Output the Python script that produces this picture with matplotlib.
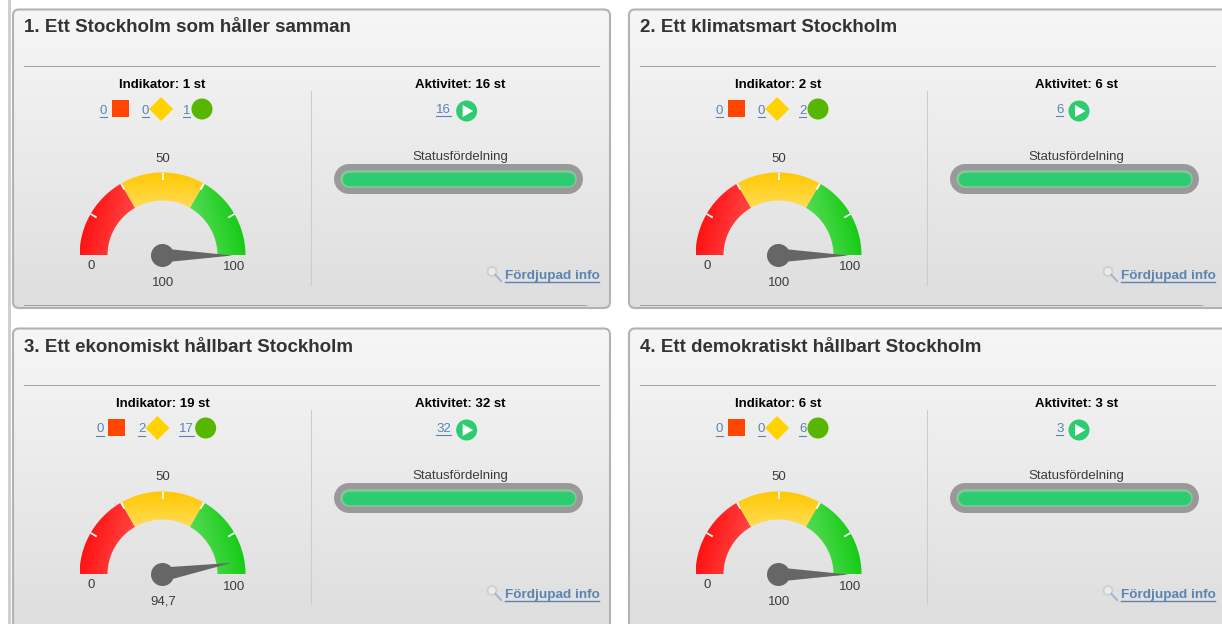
import numpy as np
import matplotlib
matplotlib.use("Agg")
import matplotlib.pyplot as plt
from matplotlib.patches import Circle, FancyBboxPatch, Polygon, Rectangle

plt.rcParams['font.family'] = ['Liberation Sans', 'DejaVu Sans']

# data
titles = ['1. Ett Stockholm som håller samman', '2. Ett klimatsmart Stockholm',
          '3. Ett ekonomiskt hållbart Stockholm', '4. Ett demokratiskt hållbart Stockholm']
indikator_tot = [1, 2, 19, 6]
ind_red = [0, 0, 0, 0]
ind_yellow = [0, 0, 2, 0]
ind_green = [1, 2, 17, 6]
aktivitet = [16, 6, 32, 3]
gauge_values = [100, 100, 94.7, 100]
gauge_labels = ['100', '100', '94,7', '100']
gauge_ticks = ['0', '50', '100']
band_limits = [0, 100 / 3, 200 / 3, 100]
tick_values = [100 / 6, 100 / 3, 50, 200 / 3, 500 / 6]

LINK = '#5b84b1'
TEXT = '#3c3c3c'
FS = 9.5
DIGIT = 7.3

fig = plt.figure(figsize=(12.22, 6.24), dpi=100)
ax = fig.add_axes([0, 0, 1, 1])
ax.axis('off')


def gradient(patch, extent, c0, c1, direction=(0, 1), z=1):
    # linear gradient image clipped to a patch
    x0, x1, y0, y1 = extent
    xx, yy = np.meshgrid(np.linspace(0, 1, 80), np.linspace(0, 1, 80))
    t = xx * direction[0] + yy * direction[1]
    t = (t - t.min()) / (t.max() - t.min())
    c0 = np.array(matplotlib.colors.to_rgb(c0))
    c1 = np.array(matplotlib.colors.to_rgb(c1))
    img = c0[None, None, :] + (c1 - c0)[None, None, :] * t[:, :, None]
    im = ax.imshow(img, extent=(x0, x1, y1, y0), origin='upper', aspect='auto',
                   zorder=z, interpolation='bilinear')
    im.set_clip_path(patch)


def polar(cx, cy, value, r):
    a = np.pi * value / 100
    return cx - r * np.cos(a), cy - r * np.sin(a)


def label(x, y, s, size=FS, color=TEXT, weight='normal', ha='center'):
    ax.text(x, y + 1, s, fontsize=size, color=color, ha=ha, va='center', weight=weight, zorder=6)


def draw_gauge(cx, cy, value, value_label):
    r_out, r_in = 83, 55
    colors = [('#ff0000', '#ff5555', (1, 0.35)),
              ('#ffc800', '#ffdc55', (0, 1)),
              ('#66e066', '#00c400', (1, -0.35))]
    for i in range(3):
        v = np.linspace(band_limits[i], band_limits[i + 1], 50)
        outer = np.column_stack(polar(cx, cy, v, r_out))
        inner = np.column_stack(polar(cx, cy, v[::-1], r_in))
        p = Polygon(np.vstack([outer, inner]), closed=True, fc='none', ec='none', zorder=2)
        ax.add_patch(p)
        xs = np.r_[outer[:, 0], inner[:, 0]]
        ys = np.r_[outer[:, 1], inner[:, 1]]
        c0, c1, d = colors[i]
        gradient(p, (xs.min(), xs.max(), ys.min(), ys.max()), c0, c1, d, z=2)
    for v in tick_values:
        x0, y0 = polar(cx, cy, v, r_out - 7)
        x1, y1 = polar(cx, cy, v, r_out)
        ax.plot([x0, x1], [y0, y1], color='white', lw=1.3, zorder=3, solid_capstyle='butt')
    # needle
    tx, ty = polar(cx, cy, value, 70)
    a = np.pi * value / 100
    nx, ny = np.sin(a) * 7, -np.cos(a) * 7
    ax.add_patch(Polygon([[cx + nx, cy + ny], [tx, ty], [cx - nx, cy - ny]], closed=True,
                         fc='#666666', ec='none', zorder=4))
    ax.add_patch(Circle((cx, cy), 11.5, fc='#666666', ec='none', zorder=4))
    label(cx, cy - 98, gauge_ticks[1])
    label(cx - 71.5, cy + 9.5, gauge_ticks[0])
    label(cx + 72, cy + 11, gauge_ticks[2])
    label(cx + 0.5, cy + 26.5, value_label)


def draw_panel(ox, oy, k, width, height):
    box = FancyBboxPatch((13 + ox + 5, 9.5 + oy + 5), width - 10, height - 10,
                         boxstyle='round,pad=5,rounding_size=6', fc='none',
                         ec='#b2b2b2', lw=1.5, zorder=3)
    ax.add_patch(box)
    gradient(box, (13 + ox, 13 + ox + width, 9.5 + oy, 308 + oy), '#f6f6f6', '#dedede', z=1)

    label(24 + ox, 27 + oy, titles[k], size=13.5, color='#333333', weight='bold', ha='left')
    ax.plot([24 + ox, 599 + ox], [65.7 + oy, 65.7 + oy], color='#a0a0a0', lw=0.7, zorder=3)
    ax.plot([24 + ox, 586 + ox], [305 + oy, 305 + oy], color='#a0a0a0', lw=0.7, zorder=3)
    ax.plot([310.5 + ox, 310.5 + ox], [91 + oy, 285 + oy], color='#cccccc', lw=0.8, zorder=3)

    label(162.5 + ox, 84 + oy, 'Indikator: %d st' % indikator_tot[k], color='black', weight='bold')
    label(460.5 + ox, 84 + oy, 'Aktivitet: %d st' % aktivitet[k], color='black', weight='bold')

    # indicator row, centred so it moves with the number of digits
    y = 109 + oy
    vals = [ind_red[k], ind_yellow[k], ind_green[k]]
    digits = sum(len(str(v)) for v in vals)
    x = 100 + ox - (digits - 3) * DIGIT / 2
    for i, v in enumerate(vals):
        s = str(v)
        w = DIGIT * len(s)
        label(x, y + 0.5, s, color=LINK, ha='left')
        ax.plot([x, x + w], [y + 7.6, y + 7.6], color=LINK, lw=0.8, zorder=5)
        x += w
        if i == 0:
            ax.add_patch(Rectangle((x + 4.7, y - 9), 17, 17, fc='#ff4500', ec='none', zorder=4))
            x += 34.2
        elif i == 1:
            mx = x + 12.3
            ax.add_patch(Polygon([[mx - 12, y], [mx, y - 12], [mx + 12, y], [mx, y + 12]],
                                 closed=True, fc='#ffd200', ec='none', zorder=4))
            x += 34.2
        else:
            ax.add_patch(Circle((x + 11.7, y), 10.5, fc='#57b700', ec='none', zorder=4))

    # activity row
    s = str(aktivitet[k])
    w = DIGIT * len(s)
    x = 440 + ox - (len(s) - 1) * DIGIT / 2
    label(x, 109 + oy, s, color=LINK, ha='left')
    ax.plot([x, x + w], [116 + oy, 116 + oy], color=LINK, lw=0.8, zorder=5)
    cx = x + w + 15.7
    cy = 111 + oy
    ax.add_patch(Circle((cx, cy), 10.5, fc='#2ecc71', ec='none', zorder=4))
    ax.add_patch(Polygon([[cx - 4, cy - 6], [cx + 6.5, cy], [cx - 4, cy + 6]], closed=True,
                         fc='white', ec='none', zorder=5))

    # status bar, all of it green
    label(460 + ox, 156 + oy, 'Statusfördelning')
    bar_x = [349 + ox, 568 + ox]
    bar_y = [179 + oy, 179 + oy]
    ax.plot(bar_x, bar_y, color='#999999', lw=30 * 0.72, solid_capstyle='round', zorder=3)
    ax.plot(bar_x, bar_y, color='#86c79b', lw=17.5 * 0.72, solid_capstyle='round', zorder=4)
    ax.plot(bar_x, bar_y, color='#2ecc71', lw=13.5 * 0.72, solid_capstyle='round', zorder=4)

    draw_gauge(162.5 + ox, 255.5 + oy, gauge_values[k], gauge_labels[k])

    # magnifier + link
    ax.add_patch(Circle((492 + ox, 271.5 + oy), 4.5, fc='#ececec', ec='#d0d0d0', lw=1.4, zorder=4))
    ax.plot([495.5 + ox, 501 + ox], [275 + oy, 281 + oy], color='#9db5d5', lw=1.4, zorder=4)
    label(505 + ox, 275 + oy, 'Fördjupad info', size=9.7, color=LINK, weight='bold', ha='left')
    ax.plot([505 + ox, 599 + ox], [282 + oy, 282 + oy], color=LINK, lw=1.0, zorder=5)


# page strip at the left edge
ax.add_patch(Rectangle((8, 0), 3, 624, fc='#d0d0d0', ec='none', zorder=0))

offsets = [(0, 0), (616, 0), (0, 319), (616, 319)]
widths = [597, 640, 597, 640]
heights = [298.5, 298.5, 330, 330]
for k, (ox, oy) in enumerate(offsets):
    draw_panel(ox, oy, k, widths[k], heights[k])

ax.set_xlim(0, 1222)
ax.set_ylim(624, 0)
fig.savefig('out.png', dpi=100, facecolor='white')
